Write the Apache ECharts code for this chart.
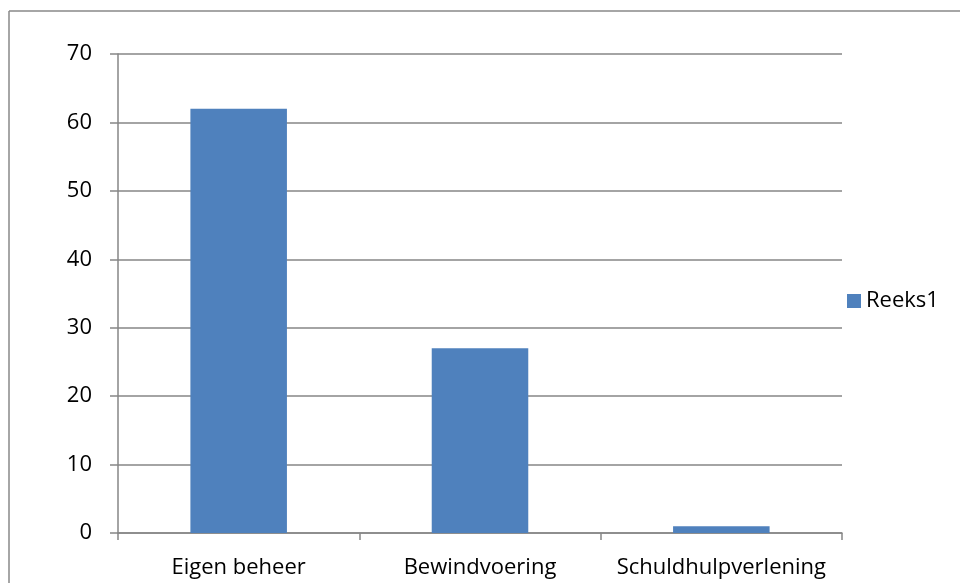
<!DOCTYPE html>
<html><head><meta charset="utf-8">
<script src="https://cdn.jsdelivr.net/npm/echarts@6/dist/echarts.min.js"></script>
<style>html,body{margin:0;padding:0;background:#fff}#c{width:960px;height:583px}</style>
</head><body><div id="c"></div>
<script>
const categories = ['Eigen beheer', 'Bewindvoering', 'Schuldhulpverlening'];
const seriesName = 'Reeks1';
const values = [62, 27, 1];
const yTicks = [0, 10, 20, 30, 40, 50, 60, 70];

const font = "'Open Sans', 'Liberation Sans', sans-serif";
const chart = echarts.init(document.getElementById('c'), null, {renderer: 'canvas'});
chart.setOption({
  animation: false,
  backgroundColor: '#fff',
  textStyle: {fontFamily: font},
  graphic: [
    {type: 'line', shape: {x1: 9, y1: 11, x2: 960, y2: 11}, style: {stroke: '#898989', lineWidth: 1.5}},
    {type: 'line', shape: {x1: 9, y1: 11, x2: 9, y2: 583}, style: {stroke: '#898989', lineWidth: 1.5}}
  ],
  grid: {left: 118, right: 118, top: 54, bottom: 50, containLabel: false},
  legend: {
    orient: 'vertical', left: 842, top: 285,
    itemWidth: 14, itemHeight: 14, itemGap: 6,
    icon: 'rect',
    textStyle: {fontSize: 22, color: '#000', fontFamily: font},
    data: [seriesName]
  },
  xAxis: {
    type: 'category', data: categories,
    axisLine: {lineStyle: {color: '#868686', width: 1.5}},
    axisTick: {show: true, length: 7, lineStyle: {color: '#868686', width: 1.5}},
    axisLabel: {color: '#000', fontSize: 22, margin: 24, fontFamily: font, interval: 0, hideOverlap: false}
  },
  yAxis: {
    type: 'value', min: yTicks[0], max: yTicks[yTicks.length - 1], interval: 10,
    axisLine: {show: true, lineStyle: {color: '#868686', width: 1.5}},
    axisTick: {show: true, length: 8, lineStyle: {color: '#868686', width: 1.5}},
    splitLine: {lineStyle: {color: '#868686', width: 1.5}},
    axisLabel: {color: '#000', fontSize: 22, margin: 26, fontFamily: font}
  },
  series: [{
    name: seriesName, type: 'bar', data: values,
    barWidth: '40%',
    itemStyle: {color: '#4f81bd'}
  }]
});
</script></body></html>
